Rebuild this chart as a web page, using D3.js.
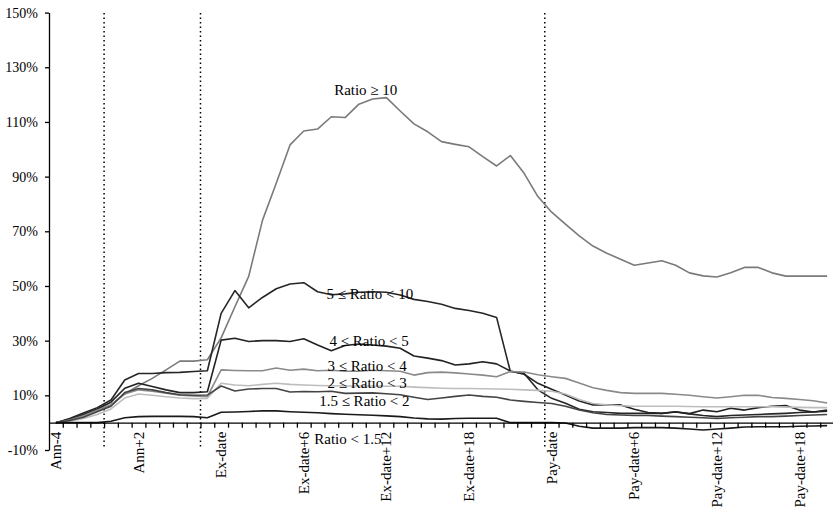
<!DOCTYPE html>
<html>
<head>
<meta charset="utf-8">
<script src="https://cdn.jsdelivr.net/npm/d3@7"></script>
<style>
  html, body { margin: 0; padding: 0; background: #fff; }
  svg { display: block; }
  text { font-family: "Liberation Serif", "Times New Roman", serif; fill: #000; }
</style>
</head>
<body>
<svg id="chart" width="833" height="513"></svg>
<script>
// ---------- DATA ----------
const categories = [
  "Ann-4","Ann-3","Ann-2","Ann-1","Ann","Ann+1","Ann+2","Ann+3","Ann+4","Ann+5","Ann+6","Ann+7",
  "Ex-date","Ex-date+1","Ex-date+2","Ex-date+3","Ex-date+4","Ex-date+5","Ex-date+6","Ex-date+7",
  "Ex-date+8","Ex-date+9","Ex-date+10","Ex-date+11","Ex-date+12","Ex-date+13","Ex-date+14","Ex-date+15",
  "Ex-date+16","Ex-date+17","Ex-date+18","Ex-date+19","Ex-date+20","Ex-date+21","Ex-date+22","Ex-date+23",
  "Pay-date","Pay-date+1","Pay-date+2","Pay-date+3","Pay-date+4","Pay-date+5","Pay-date+6","Pay-date+7",
  "Pay-date+8","Pay-date+9","Pay-date+10","Pay-date+11","Pay-date+12","Pay-date+13","Pay-date+14",
  "Pay-date+15","Pay-date+16","Pay-date+17","Pay-date+18","Pay-date+19","Pay-date+20"
];
const shownLabels = ["Ann-4","Ann+2","Ex-date","Ex-date+6","Ex-date+12","Ex-date+18",
                     "Pay-date","Pay-date+6","Pay-date+12","Pay-date+18"];
const yTicks = [-10, 10, 30, 50, 70, 90, 110, 130, 150];
// event markers: category boundary before these categories
const eventBoundaries = ["Ann", "Ann+7", "Pay-date"];

const ratioGE10 = [0, 1.0, 2.5, 4.5, 6.5, 10.5, 13.5, 16.2, 19.3, 22.5, 22.5, 23,
  31, 42.4, 53.5, 74, 87.6, 101.6, 106.7, 107.4, 111.9, 111.6, 116.5, 118.4, 118.9, 114, 109.3, 106.4, 102.8, 101.8, 100.9, 97.3, 93.9, 97.7, 91.2, 82.7,
  77, 72.6, 68.3, 64.6, 62, 59.8, 57.6, 58.4, 59.2, 57.6, 54.8, 53.7, 53.3, 54.8, 56.8, 56.8, 54.8, 53.6, 53.6, 53.6, 53.6];
const ratio5to10 = [0, 1.5, 3.5, 5.5, 8.3, 15.6, 18, 18, 18.3, 18.4, 18.7, 19,
  40, 48.3, 42, 45.8, 49, 50.7, 51.2, 47.9, 46.8, 47.1, 47.7, 47.9, 47.7, 46.7, 45.1, 44.3, 43.3, 41.8, 41, 40, 38.5, 18.7, 18, 12,
  8.9, 7.1, 4.9, 4.0, 3.7, 3.4, 3.4, 3.4, 3.4, 3.9, 3.2, 2.6, 2.2, 2.6, 2.8, 3.0, 3.2, 3.4, 3.7, 3.9, 4.2];
const ratio4to5 = [0, 1.2, 3, 5, 7.5, 12.6, 14.4, 13.2, 12, 11, 11, 11.3,
  30.2, 30.9, 29.7, 30, 30, 29.7, 30.7, 28.4, 26.3, 28.2, 28.8, 28.4, 28, 27.2, 24.4, 23.6, 22.7, 21.1, 21.5, 22.3, 21.5, 18.9, 17.7, 14.4,
  12.2, 10.1, 7.9, 6.5, 6.5, 6.5, 4.9, 3.7, 3.4, 4.0, 3.3, 4.6, 4.0, 5.3, 4.6, 5.5, 6.0, 6.3, 4.6, 3.9, 4.6];
const ratio3to4 = [0, 1, 2.5, 4.5, 6.5, 10.5, 12, 11.5, 10.8, 10, 9.8, 9.5,
  19.3, 19.1, 19.0, 19.0, 20.0, 19.2, 19.6, 19.0, 19.2, 18.8, 18.8, 19.2, 19.0, 18.8, 17.4, 18.3, 18.5, 18.2, 17.8, 17.4, 16.8, 18.7, 18.5, 17.5,
  16.8, 16.2, 14.5, 12.8, 11.8, 11, 10.7, 10.7, 10.7, 10.4, 10, 9.5, 9, 9.5, 10, 10, 9.2, 8.9, 8.5, 8, 7.2];
const ratio2to3 = [0, 0.5, 1.5, 3, 5, 9, 10.5, 10, 9.5, 9, 8.8, 8.9,
  14.4, 13.8, 13.5, 14.0, 14.4, 14.0, 13.8, 13.6, 13.5, 13.4, 13.4, 13.4, 13.3, 13.3, 13.0, 12.8, 12.6, 12.5, 12.5, 12.4, 12.3, 12.2, 12.0, 11.8,
  11.5, 10.5, 8.5, 7.0, 6.5, 6.2, 6.0, 6.0, 6.0, 6.0, 5.9, 5.8, 5.8, 5.8, 5.8, 5.8, 5.8, 5.7, 5.6, 5.5, 5.5];
const ratio15to2 = [0, 0.8, 2, 4, 6, 11, 12.5, 12, 11, 10.2, 10, 10.1,
  13.4, 11.6, 12.3, 12.5, 12.5, 11.2, 11.4, 11.3, 11.5, 10.7, 10.8, 10.9, 10.6, 10.2, 9.3, 8.5, 9.0, 9.6, 10.1, 9.6, 9.3, 8.3, 7.8, 7.4,
  7.0, 6.0, 4.6, 3.6, 3.0, 2.8, 2.6, 2.6, 2.4, 2.2, 2.0, 1.8, 1.5, 1.8, 2.0, 2.2, 2.2, 2.4, 2.6, 2.8, 3.0];
const ratioLT15 = [0, 0, 0, 0, 0.5, 1.8, 2.2, 2.3, 2.3, 2.3, 2.2, 1.8,
  3.8, 3.9, 4.1, 4.3, 4.3, 4.0, 3.8, 3.6, 3.3, 3.1, 2.9, 2.7, 2.5, 2.2, 1.7, 1.4, 1.3, 1.5, 1.6, 1.6, 1.6, 0, 0, 0,
  0, -0.1, -1.3, -2, -2, -2, -1.8, -1.8, -1.8, -2, -2.3, -2.7, -2.3, -2, -1.6, -1.5, -1.5, -1.5, -1.3, -1.2, -1.1];

const seriesNames = ["Ratio ≥ 10", "5 ≤ Ratio < 10", "4 ≤ Ratio < 5", "3 ≤ Ratio < 4",
                     "2 ≤ Ratio < 3", "1.5 ≤ Ratio < 2", "Ratio < 1.5"];
const seriesValues = [ratioGE10, ratio5to10, ratio4to5, ratio3to4, ratio2to3, ratio15to2, ratioLT15];

// ---------- STYLE / LAYOUT ----------
const seriesColors = ["#7a7a7a", "#262626", "#222222", "#8a8a8a", "#bdbdbd", "#444444", "#1a1a1a"];
// label anchor: [category index (fractional), value] for each series
const labelAnchors = [[22.5, 119.8], [22.8, 45.2], [22.75, 28.05], [22.6, 18.9], [22.6, 12.7], [22.4, 6.1], [21.2, -7.8]];

const svg = d3.select("#chart");
const plotL = 49, plotR = 834, plotT = 12.6, plotB = 450;

const x = d3.scaleBand().domain(categories).range([plotL, plotR]).padding(0);
const xc = c => x(c) + x.bandwidth() / 2;
const xi = i => plotL + x.bandwidth() * (i + 0.5);
const y = d3.scaleLinear().domain([-10, 150]).range([plotB, plotT]);

// event dotted lines
svg.append("g").selectAll("line").data(eventBoundaries).join("line")
  .attr("x1", d => x(d)).attr("x2", d => x(d))
  .attr("y1", 13).attr("y2", 448)
  .attr("stroke", "#000").attr("stroke-width", 1.5)
  .attr("stroke-dasharray", "1.5,3");

// lines
const line = d3.line().x((d, i) => xc(categories[i])).y(d => y(d));
svg.append("g").selectAll("path").data(seriesValues).join("path")
  .attr("d", d => line(d))
  .attr("fill", "none")
  .attr("stroke", (d, i) => seriesColors[i])
  .attr("stroke-width", 1.6)
  .attr("stroke-linejoin", "round");

// y axis
const yAxis = d3.axisLeft(y).tickValues(yTicks).tickFormat(d => d + "%")
  .tickSize(4).tickSizeOuter(0).tickPadding(7);
const gy = svg.append("g").attr("transform", `translate(${plotL},0)`).call(yAxis);
gy.selectAll("text").style("font-size", "14px").style("font-family", '"Liberation Serif", serif');
gy.selectAll("path, line").attr("stroke", "#000").attr("stroke-width", 1.3);

// x axis (ticks at category boundaries)
const xLin = d3.scaleLinear().domain([0, categories.length]).range([plotL, plotR]);
const xAxis = d3.axisBottom(xLin).tickValues(d3.range(1, categories.length + 1))
  .tickFormat("").tickSize(5).tickSizeOuter(0);
const gx = svg.append("g").attr("transform", `translate(0,${y(0)})`).call(xAxis);
gx.selectAll("path, line").attr("stroke", "#000").attr("stroke-width", 1.3);

// category labels (rotated)
svg.append("g").selectAll("text").data(shownLabels).join("text")
  .attr("transform", d => `translate(${xc(d) + 5},${y(0) + 9}) rotate(-90)`)
  .attr("text-anchor", "end")
  .style("font-size", "15px")
  .text(d => d);

// series labels
svg.append("g").selectAll("text").data(seriesNames).join("text")
  .attr("x", (d, i) => xi(labelAnchors[i][0]))
  .attr("y", (d, i) => y(labelAnchors[i][1]))
  .attr("text-anchor", "middle")
  .style("font-size", "15px")
  .text(d => d);
</script>
</body>
</html>
